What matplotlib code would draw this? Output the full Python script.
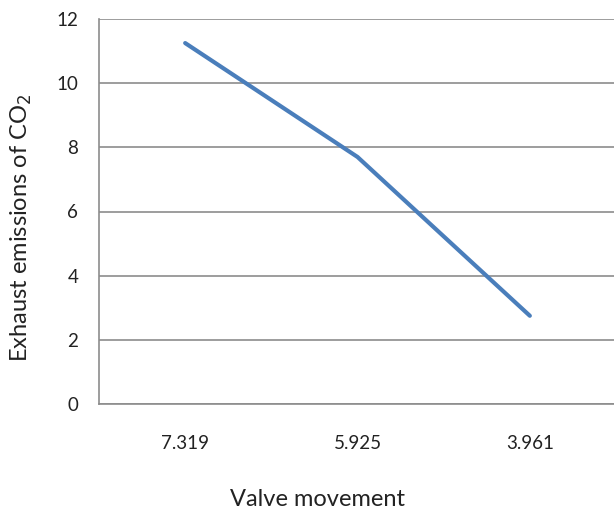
import matplotlib.pyplot as plt

plt.rcParams['font.family'] = ['Lato', 'DejaVu Sans']

valve = ["7.319", "5.925", "3.961"]
co2 = [11.25, 7.7, 2.75]

fig = plt.figure(figsize=(6.14, 5.12), dpi=100)
ax = fig.add_axes([99 / 614, 1 - 404 / 512, (616 - 99) / 614, (404 - 19) / 512])

ax.plot(range(len(valve)), co2, color='#4A7EBB', lw=3, solid_capstyle='round')
ax.set_xlim(-0.5, len(valve) - 0.5)
ax.set_ylim(0, 12)
ax.set_yticks(range(0, 13, 2))
ax.set_xticks(range(len(valve)))
ax.set_xticklabels(valve)
ax.yaxis.grid(True, color='#8c8c8c', lw=1.2)
ax.set_axisbelow(True)
for s in ['top', 'right']:
    ax.spines[s].set_visible(False)
for s in ['left', 'bottom']:
    ax.spines[s].set_color('#8c8c8c')
    ax.spines[s].set_linewidth(1.2)
ax.tick_params(length=0, labelsize=13.5, colors='#222222')
ax.tick_params(axis='x', pad=22)
ax.tick_params(axis='y', pad=15)

fig.text(317 / 614, 1 - 500 / 512, "Valve movement", fontsize=17,
         ha='center', va='center', color='#222222')
fig.text(21 / 614, 1 - 228 / 512, "Exhaust emissions of CO$_2$", fontsize=17,
         ha='center', va='center', rotation=90, color='#222222')

fig.savefig("out.png", dpi=100)
